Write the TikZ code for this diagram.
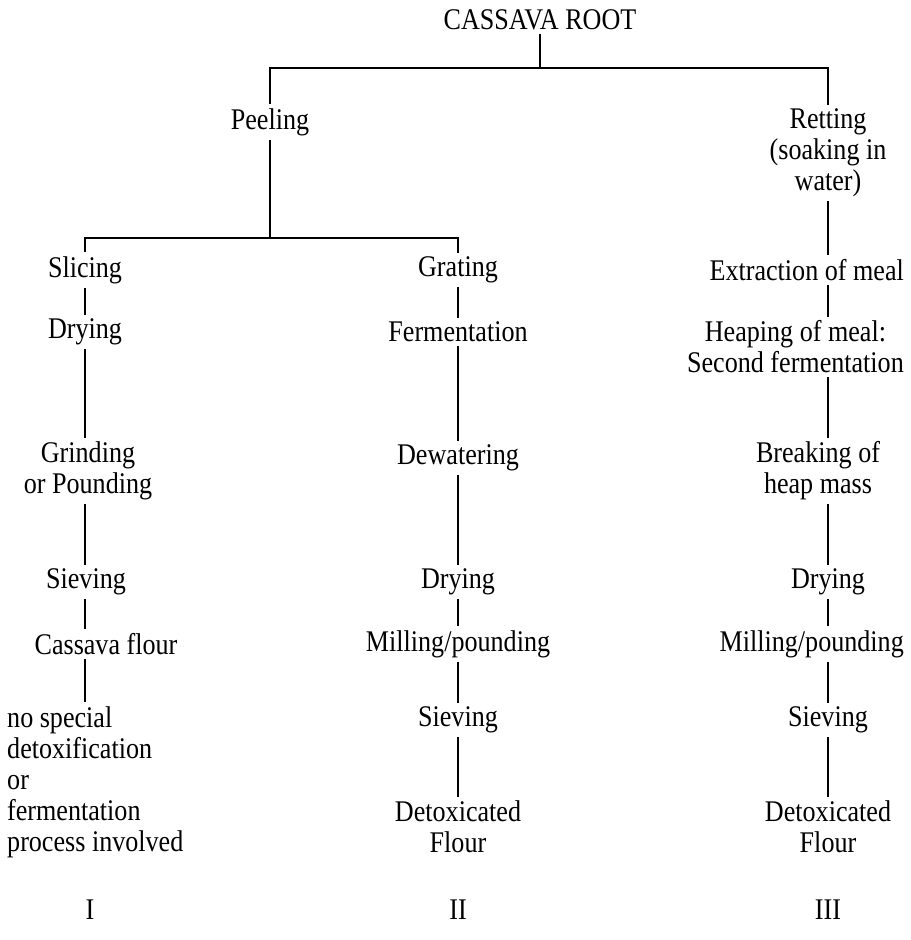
\documentclass[tikz,border=0pt]{standalone}
\usepackage{fontspec}
\setmainfont{Liberation Serif}[FakeStretch=0.87]
\usepackage{tikz}

\begin{document}
\begin{tikzpicture}[x=0.5pt,y=-0.5pt,line width=1.2pt,
  every node/.style={font=\fontsize{15}{15.5}\selectfont,align=center,inner sep=1.5pt}]

\useasboundingbox (0,0) rectangle (910,940);

\coordinate (colI) at (85,0);
\coordinate (colII) at (458,0);
\coordinate (colIII) at (828,0);

\node (root) at (540,20) {CASSAVA ROOT};
\node (peel) at (270,122) {Peeling};
\node (ret) at (828,153) {Retting\\(soaking in\\water)};

\coordinate (split) at (540,68);
\coordinate (fork) at (270,238);

\draw (root) -- (split);
\draw (peel.north) |- (split) -| (ret.north);
\draw (peel.south) -- (fork);

% I
\node (slice) at (85,270) {Slicing};
\node (dryI) at (85,332) {Drying};
\node (grind) at (88,471) {Grinding\\or Pounding};
\node (sieveI) at (86,582) {Sieving};
\node (flourI) at (106,644) {Cassava flour};
\node[align=left,anchor=north west] (note) at (3,702) {no special\\detoxification\\or\\fermentation\\process involved};

% II
\node (grate) at (458,270) {Grating};
\node (ferm) at (458,332) {Fermentation};
\node (dewat) at (458,458) {Dewatering};
\node (dryII) at (458,582) {Drying};
\node (millII) at (458,644) {Milling/pounding};
\node (sieveII) at (458,720) {Sieving};
\node (flourII) at (458,827) {Detoxicated\\Flour};

% III
\node[anchor=east] (extr) at (908,270) {Extraction of meal};
\node[anchor=east] (heap) at (908,347) {Heaping of meal:\\Second fermentation};
\node (break) at (818,471) {Breaking of\\heap mass};
\node (dryIII) at (828,582) {Drying};
\node[anchor=east] (millIII) at (908,644) {Milling/pounding};
\node (sieveIII) at (828,720) {Sieving};
\node (flourIII) at (828,827) {Detoxicated\\Flour};

\draw (slice.north -| colI) |- (fork) -| (grate.north);

\foreach \a/\b in {slice/dryI,dryI/grind,grind/sieveI,sieveI/flourI,flourI/note}
  \draw (\a.south -| colI) -- (\b.north -| colI);
\foreach \a/\b in {grate/ferm,ferm/dewat,dewat/dryII,dryII/millII,millII/sieveII,sieveII/flourII}
  \draw (\a.south -| colII) -- (\b.north -| colII);
\foreach \a/\b in {ret/extr,extr/heap,heap/break,break/dryIII,dryIII/millIII,millIII/sieveIII,sieveIII/flourIII}
  \draw (\a.south -| colIII) -- (\b.north -| colIII);

\node (nI) at (90,910) {I};
\node (nII) at (458,910) {II};
\node (nIII) at (828,910) {III};

\end{tikzpicture}
\end{document}
